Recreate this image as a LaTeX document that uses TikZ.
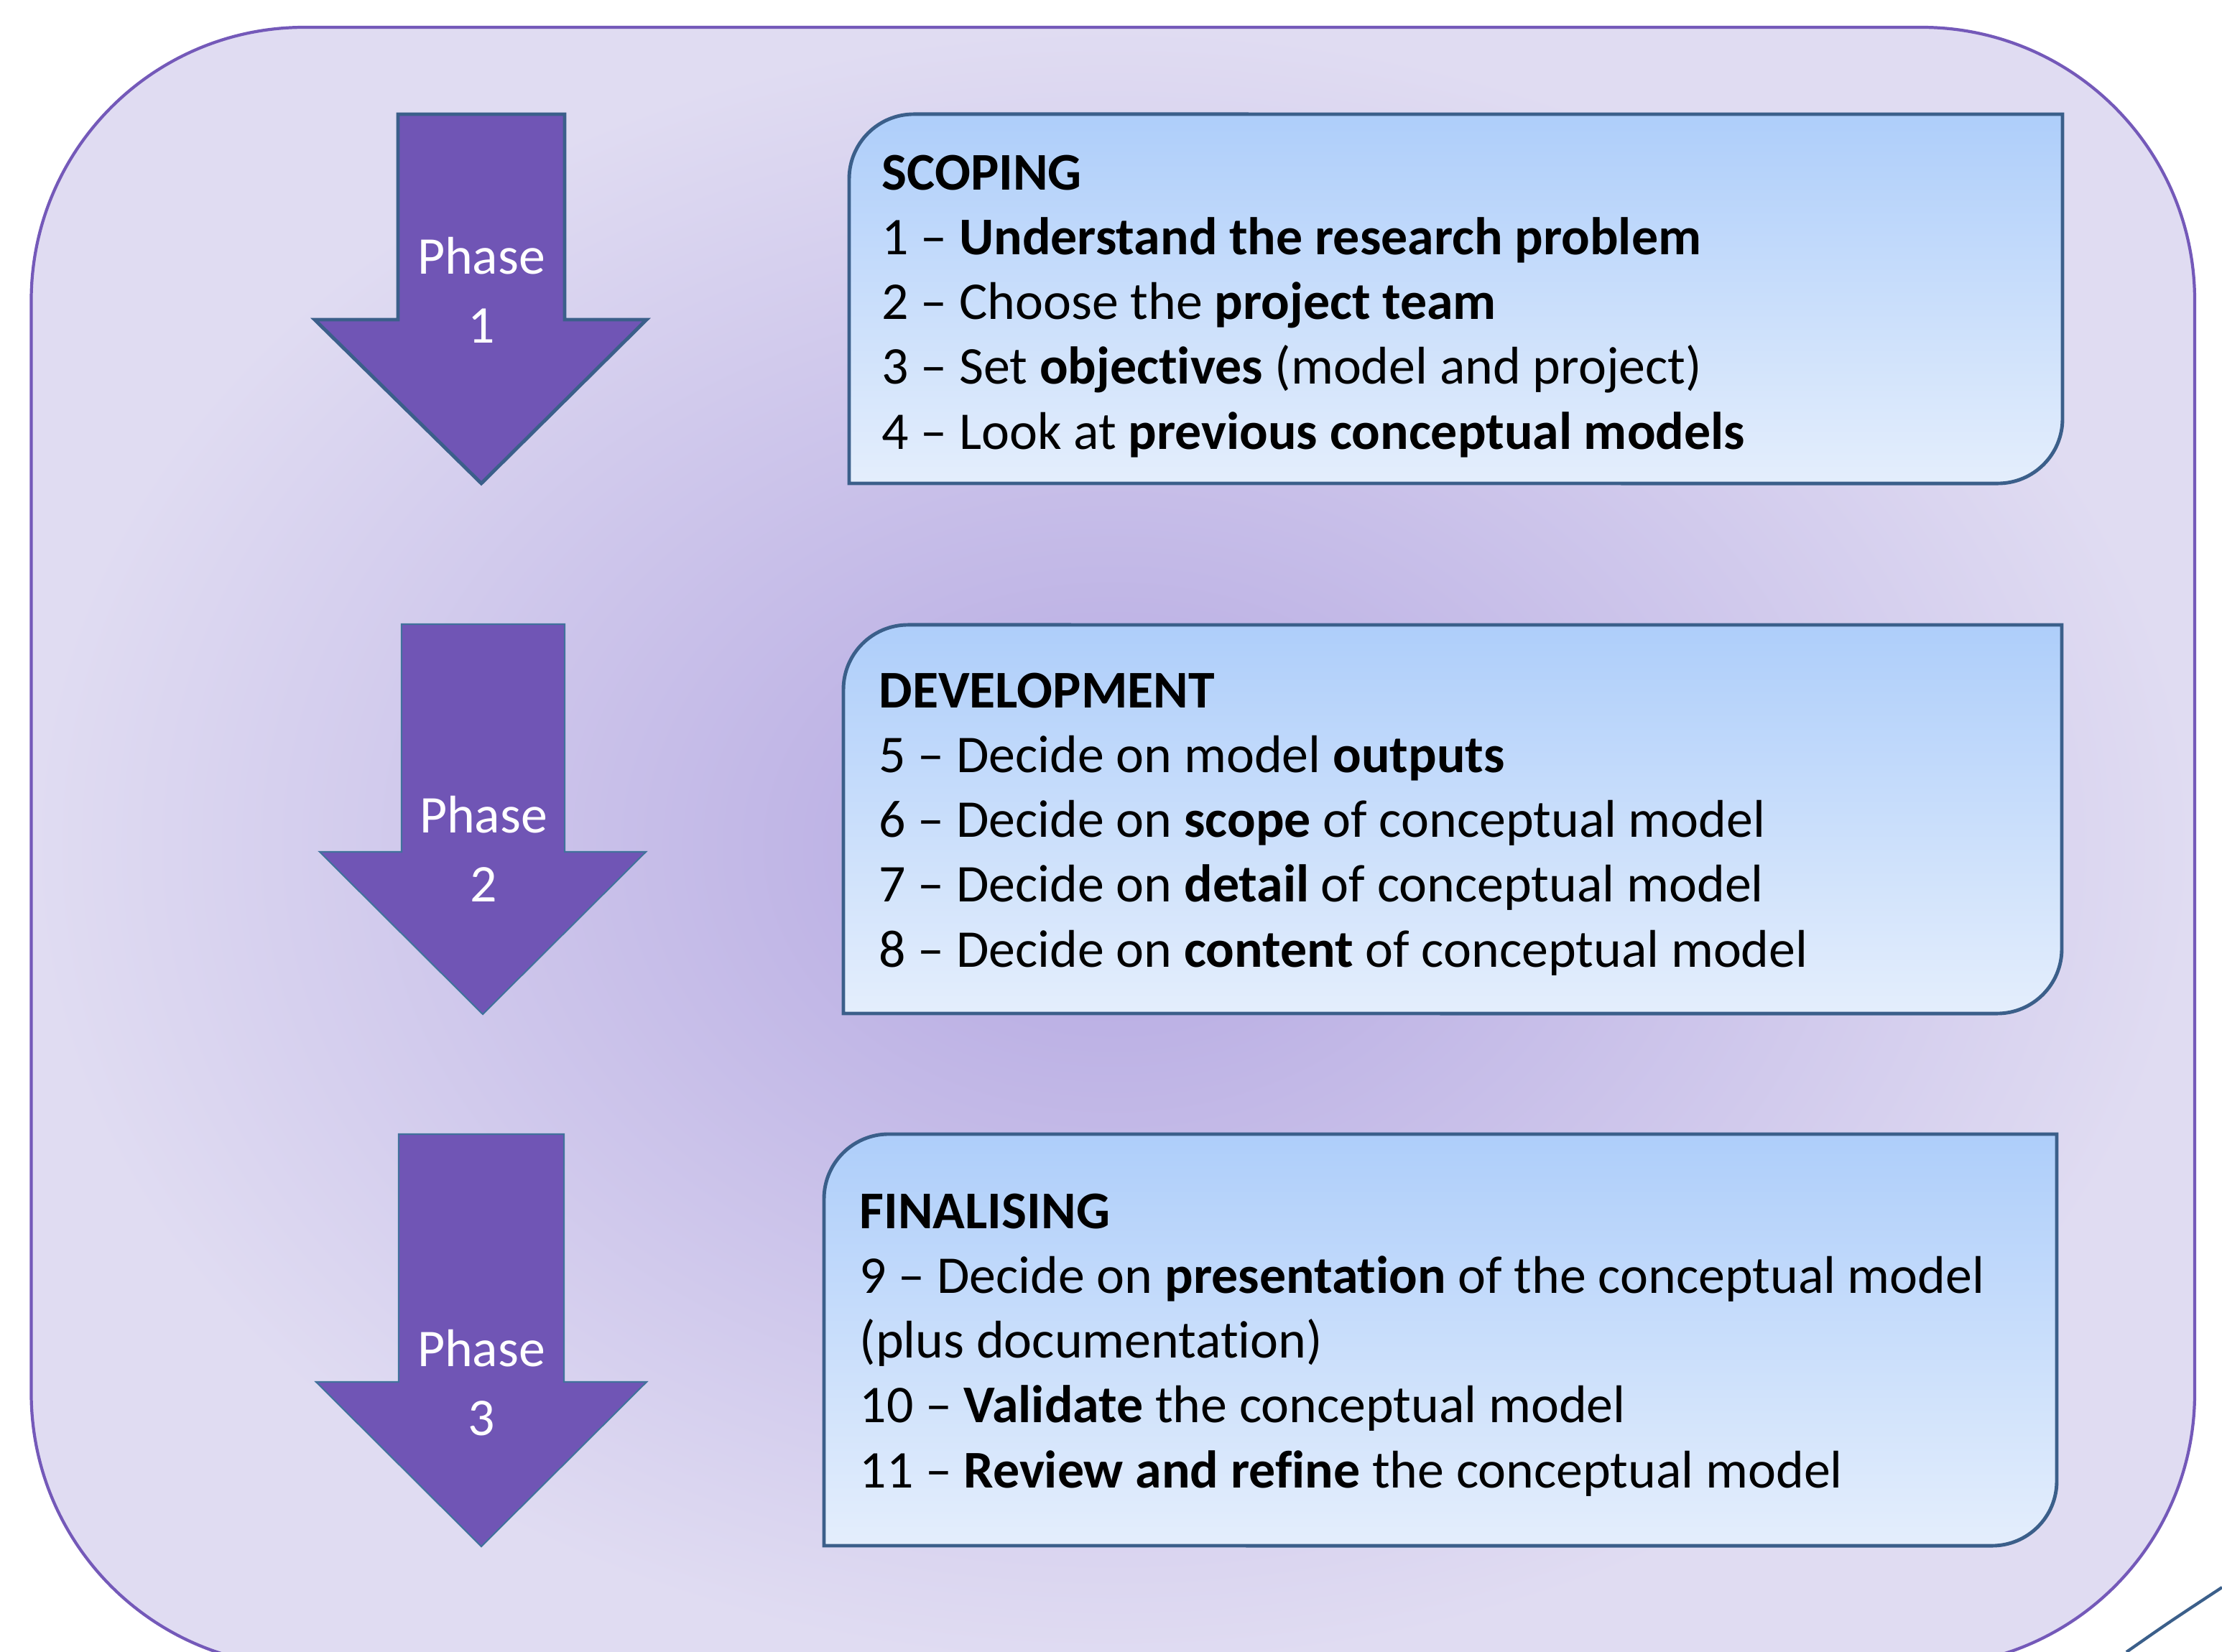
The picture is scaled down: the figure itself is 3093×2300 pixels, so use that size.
\documentclass[tikz,border=0pt]{standalone}
\usepackage{fontspec}
\setmainfont[Ligatures=NoCommon]{Carlito}
\definecolor{panelline}{HTML}{7459B9}
\definecolor{panelin}{HTML}{B3A6E1}
\definecolor{panelout}{HTML}{E0DCF2}
\definecolor{arrowfill}{HTML}{7055B5}
\definecolor{arrowline}{HTML}{41729C}
\definecolor{cardline}{HTML}{3B5F8A}
\definecolor{cardtop}{HTML}{AECEFA}
\definecolor{cardbottom}{HTML}{E4EEFC}
\tikzset{
  panel/.style={draw=panelline,line width=1.2pt,rounded corners=3.8cm,inner color=panelin,outer color=panelout},
  phasearrow/.style={draw=arrowline,fill=arrowfill,line width=0.6pt,line join=miter},
  card/.style={draw=cardline,line width=1.4pt,top color=cardtop,bottom color=cardbottom},
  cardtext/.style={anchor=base west,align=left,inner sep=0pt,font=\fontsize{21}{25.6}\selectfont},
  phasetext/.style={anchor=base,align=center,inner sep=0pt,text=white,font=\fontsize{21}{27.2}\selectfont}
}
\begin{document}
\begin{tikzpicture}[x=0.01cm,y=0.01cm]
\useasboundingbox (0,0) rectangle (3093,-2300);
\clip (0,0) rectangle (3093,-2300);
\fill[white] (0,0) rectangle (3093,-2300);
\draw[panel] (43.5,-38) rectangle (3055,-2320);
\draw[cardline,line width=1.2pt] (2960,-2300) .. controls (3020,-2258) .. (3093,-2210);

\draw[phasearrow,draw=cardline,line width=1.4pt] (554,-159) -- (786,-159) -- (786,-445) -- (900,-445) -- (670,-673) -- (438,-445) -- (554,-445) -- cycle;
\draw[phasearrow] (559,-869) -- (786,-869) -- (786,-1186) -- (899,-1186) -- (672,-1412) -- (445,-1186) -- (559,-1186) -- cycle;
\draw[phasearrow] (555,-1579) -- (785,-1579) -- (785,-1924) -- (900,-1924) -- (670,-2153) -- (440,-1924) -- (555,-1924) -- cycle;
\node[phasetext] (phaseone) at (670,-477) {Phase\\1};
\node[phasetext] (phasetwo) at (673,-1255) {Phase\\2};
\node[phasetext] (phasethree) at (670,-1998) {Phase\\3};

\draw[card] (1182,-673) -- (1182,-249) arc[start angle=180,end angle=90,radius=0.9cm] -- (2871,-159) -- (2871,-583) arc[start angle=0,end angle=-90,radius=0.9cm] -- cycle;
\draw[card] (1174,-1411) -- (1174,-960) arc[start angle=180,end angle=90,radius=0.9cm] -- (2870,-870) -- (2870,-1321) arc[start angle=0,end angle=-90,radius=0.9cm] -- cycle;
\draw[card] (1147,-2152) -- (1147,-1669) arc[start angle=180,end angle=90,radius=0.9cm] -- (2863,-1579) -- (2863,-2062) arc[start angle=0,end angle=-90,radius=0.9cm] -- cycle;

\node[cardtext] (scoping) at (1227,-625) {\textbf{SCOPING}\\1 – \textbf{Understand the research problem}\\2 – Choose the \textbf{project team}\\3 – Set \textbf{objectives} (model and project)\\4 – Look at \textbf{previous conceptual models}};
\node[cardtext] (development) at (1223,-1346) {\textbf{DEVELOPMENT}\\5 – Decide on model \textbf{outputs}\\6 – Decide on \textbf{scope} of conceptual model\\7 – Decide on \textbf{detail} of conceptual model\\8 – Decide on \textbf{content} of conceptual model};
\node[cardtext] (finalising) at (1196,-2071) {\textbf{FINALISING}\\9 – Decide on \textbf{presentation} of the conceptual model\\(plus documentation)\\10 – \textbf{Validate} the conceptual model\\11 – \textbf{Review and refine} the conceptual model};
\end{tikzpicture}
\end{document}
